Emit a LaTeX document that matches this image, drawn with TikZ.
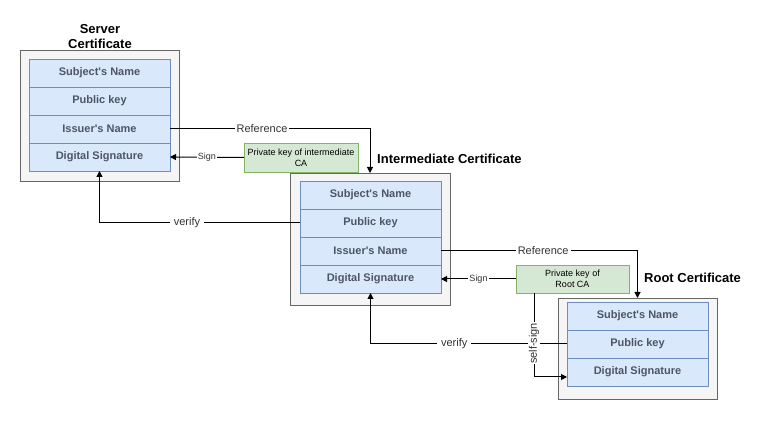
\documentclass[tikz,border=0pt]{standalone}
\usepackage{fontspec}
\setmainfont{Liberation Sans}
\usetikzlibrary{positioning,arrows.meta}

\definecolor{boxfill}{HTML}{F5F5F5}
\definecolor{boxline}{HTML}{666666}
\definecolor{fieldfill}{HTML}{DAE8FC}
\definecolor{fieldline}{HTML}{6C8EBF}
\definecolor{fieldtext}{HTML}{4D5566}
\definecolor{keyfill}{HTML}{D5E8D4}
\definecolor{keyline}{HTML}{82B366}

\tikzset{
  certbox/.style={draw=boxline, fill=boxfill, line width=0.8pt, outer sep=0pt, inner sep=0pt},
  field/.style={draw=fieldline, fill=fieldfill, line width=0.8pt, minimum width=141pt,
    minimum height=28pt, outer sep=0pt, inner sep=0pt, text=fieldtext,
    font=\fontsize{11}{13}\selectfont\bfseries},
  keybox/.style={draw=keyline, fill=keyfill, line width=0.8pt, outer sep=0pt, inner sep=0pt,
    align=center, font=\fontsize{9}{11}\selectfont},
  certtitle/.style={font=\fontsize{13}{15}\selectfont\bfseries, inner sep=0pt},
  conn/.style={-{Triangle[length=6pt,width=6pt]}, line width=1pt},
  lbl/.style={fill=white, inner sep=2pt, text=black!80, font=\fontsize{11}{13}\selectfont},
  smalllbl/.style={fill=white, inner sep=1pt, text=black!80, font=\fontsize{9}{11}\selectfont}
}
\newcommand{\apos}{\textquotesingle}

\begin{document}
\begin{tikzpicture}[x=1pt, y=-1pt]
\useasboundingbox (0,0) rectangle (769,430);

% Server certificate
  \node[certbox, minimum width=159pt, minimum height=131pt] (server) at (99.5,115.5) {};
  \node[certtitle, align=center] (servertitle) at (100,37) {Server\\Certificate};
  \node[field] (srvsubj) at (99.5,73) {Subject\apos s Name};
  \node[field, below=0pt of srvsubj] (srvpub) {Public key};
  \node[field, below=0pt of srvpub] (srviss) {Issuer\apos s Name};
  \node[field, below=0pt of srviss] (srvsig) {Digital Signature};

% Intermediate certificate
  \node[certbox, minimum width=160pt, minimum height=132pt] (inter) at (370,239) {};
  \node[certtitle, anchor=west] (intertitle) at (377,159) {Intermediate Certificate};
  \node[field] (intsubj) at (370.5,195) {Subject\apos s Name};
  \node[field, below=0pt of intsubj] (intpub) {Public key};
  \node[field, below=0pt of intpub] (intiss) {Issuer\apos s Name};
  \node[field, below=0pt of intiss] (intsig) {Digital Signature};

% Root certificate
  \node[certbox, minimum width=159pt, minimum height=101pt] (root) at (637.5,348.5) {};
  \node[certtitle, anchor=west] (roottitle) at (644,278) {Root Certificate};
  \node[field] (rootsubj) at (637.5,316) {Subject\apos s Name};
  \node[field, below=0pt of rootsubj] (rootpub) {Public key};
  \node[field, below=0pt of rootpub] (rootsig) {Digital Signature};

% Private keys
  \node[keybox, minimum width=114pt, minimum height=29pt] (key1) at (301,157.5)
    {Private key of intermediate\\CA};
  \node[keybox, minimum width=113pt, minimum height=28pt] (key2) at (572.5,279)
    {Private key of\\Root CA};
  \coordinate (selfstart) at ([xshift=-38.5pt]key2.south);

% References
  \draw[conn] (srviss.east) -| node[lbl, pos=0.23] {Reference} (inter.north);
  \draw[conn] (intiss.east) -| node[lbl, pos=0.26] {Reference} (root.north);

% Verification
  \draw[conn] (intpub.west) -| node[lbl, inner xsep=4pt, pos=0.282] {verify} (srvsig.south);
  \draw[conn] (rootpub.west) -| node[lbl, inner xsep=4pt, pos=0.287] {verify} (intsig.south);

% Signing
  \draw[conn] (key1.west) -- node[smalllbl] {Sign} (srvsig.east);
  \draw[conn] (key2.west) -- node[smalllbl] {Sign} (intsig.east);
  \draw[conn] (selfstart) |- node[lbl, inner sep=0.5pt, pos=0.3, rotate=90] {self-sign} ([yshift=-5pt]rootsig.west);

\end{tikzpicture}
\end{document}
